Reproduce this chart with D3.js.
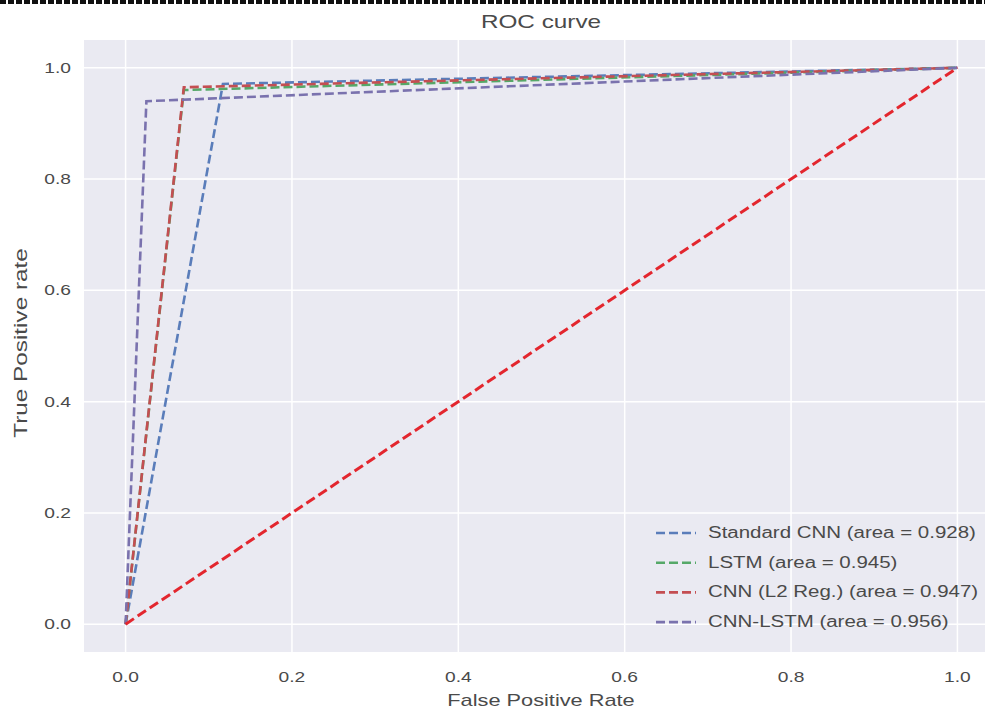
<!DOCTYPE html>
<html>
<head>
<meta charset="utf-8">
<script src="https://d3js.org/d3.v7.min.js"></script>
<style>
  body { margin: 0; background: #fff; }
  text { font-family: "Liberation Sans", Arial, sans-serif; fill: #4a4a4a; }
</style>
</head>
<body>
<svg id="chart" width="985" height="715"></svg>
<script>
// ROC points (fpr, tpr)
var seriesNames = ['Standard CNN (area = 0.928)', 'LSTM (area = 0.945)', 'CNN (L2 Reg.) (area = 0.947)', 'CNN-LSTM (area = 0.956)'];
var seriesColors = ['#5A7DBA', '#55A868', '#C44E52', '#7A72AE'];
var fprCnn = [0, 0.117, 1], tprCnn = [0, 0.971, 1];
var fprLstm = [0, 0.07, 1], tprLstm = [0, 0.96, 1];
var fprL2 = [0, 0.07, 1], tprL2 = [0, 0.965, 1];
var fprCnnLstm = [0, 0.025, 1], tprCnnLstm = [0, 0.94, 1];
var diagX = [0, 1], diagY = [0, 1];
var ticks = [0, 0.2, 0.4, 0.6, 0.8, 1.0];

var svg = d3.select('#chart');
var sx = 1.28; // picture is stretched sideways

// plot area
var pLeft = 84, pRight = 999, pTop = 40, pBottom = 652;
var xs = d3.scaleLinear().domain([-0.05, 1.05]).range([pLeft, pRight]);
var ys = d3.scaleLinear().domain([-0.05, 1.05]).range([pBottom, pTop]);

// dashed border line at the very top
svg.append('line').attr('x1', 0).attr('x2', 985).attr('y1', 2).attr('y2', 2)
  .style('stroke', '#111').style('stroke-width', 4).style('stroke-dasharray', '6,2');

svg.append('defs').append('clipPath').attr('id', 'clip')
  .append('rect').attr('x', pLeft).attr('y', pTop).attr('width', pRight - pLeft).attr('height', pBottom - pTop);

svg.append('rect').attr('x', pLeft).attr('y', pTop).attr('width', pRight - pLeft).attr('height', pBottom - pTop)
  .attr('fill', '#EAEAF2');

var grid = svg.append('g').attr('clip-path', 'url(#clip)');
grid.selectAll('.gx').data(ticks).enter().append('line')
  .attr('x1', d => xs(d)).attr('x2', d => xs(d)).attr('y1', pTop).attr('y2', pBottom)
  .style('stroke', '#fff').style('stroke-width', 1.5);
grid.selectAll('.gy').data(ticks).enter().append('line')
  .attr('y1', d => ys(d)).attr('y2', d => ys(d)).attr('x1', pLeft).attr('x2', pRight)
  .style('stroke', '#fff').style('stroke-width', 1.5);

// stretched text helper
function label(x, y, str, size, anchor, rot) {
  var g = svg.append('g').attr('transform', 'translate(' + x + ',' + y + ')' + (rot ? ' rotate(' + rot + ')' : ''));
  var inner = g.append('g').attr('transform', 'scale(' + sx + ',1)');
  return inner.append('text').attr('text-anchor', anchor).style('font-size', size + 'px').text(str);
}

// axes tick labels
ticks.forEach(function(t) {
  label(xs(t), 682, t.toFixed(1), 15, 'middle');
  label(71, ys(t) + 5, t.toFixed(1), 15, 'end');
});

label(541, 28, 'ROC curve', 19, 'middle');
label(541, 706, 'False Positive Rate', 17, 'middle');
label(27, 343, 'True Positive rate', 19, 'middle', -90);

// lines
var line = d3.line().x(d => xs(d[0])).y(d => ys(d[1]));
var plot = svg.append('g').attr('clip-path', 'url(#clip)');
var series = [
  d3.zip(fprCnn, tprCnn), d3.zip(fprLstm, tprLstm), d3.zip(fprL2, tprL2), d3.zip(fprCnnLstm, tprCnnLstm)
];
series.forEach(function(s, i) {
  plot.append('path').datum(s).attr('d', line).attr('fill', 'none')
    .style('stroke', seriesColors[i]).style('stroke-width', 2.6).style('stroke-dasharray', '9,4');
});
plot.append('path').datum(d3.zip(diagX, diagY)).attr('d', line).attr('fill', 'none')
  .style('stroke', '#E3262E').style('stroke-width', 3).style('stroke-dasharray', '10,4.5');

// legend
seriesNames.forEach(function(n, i) {
  var y = 533 + i * 29.7;
  svg.append('line').attr('x1', 656).attr('x2', 696).attr('y1', y).attr('y2', y)
    .style('stroke', seriesColors[i]).style('stroke-width', 2.6).style('stroke-dasharray', '9,4');
  label(708, y + 5, n, 16, 'start');
});
</script>
</body>
</html>
